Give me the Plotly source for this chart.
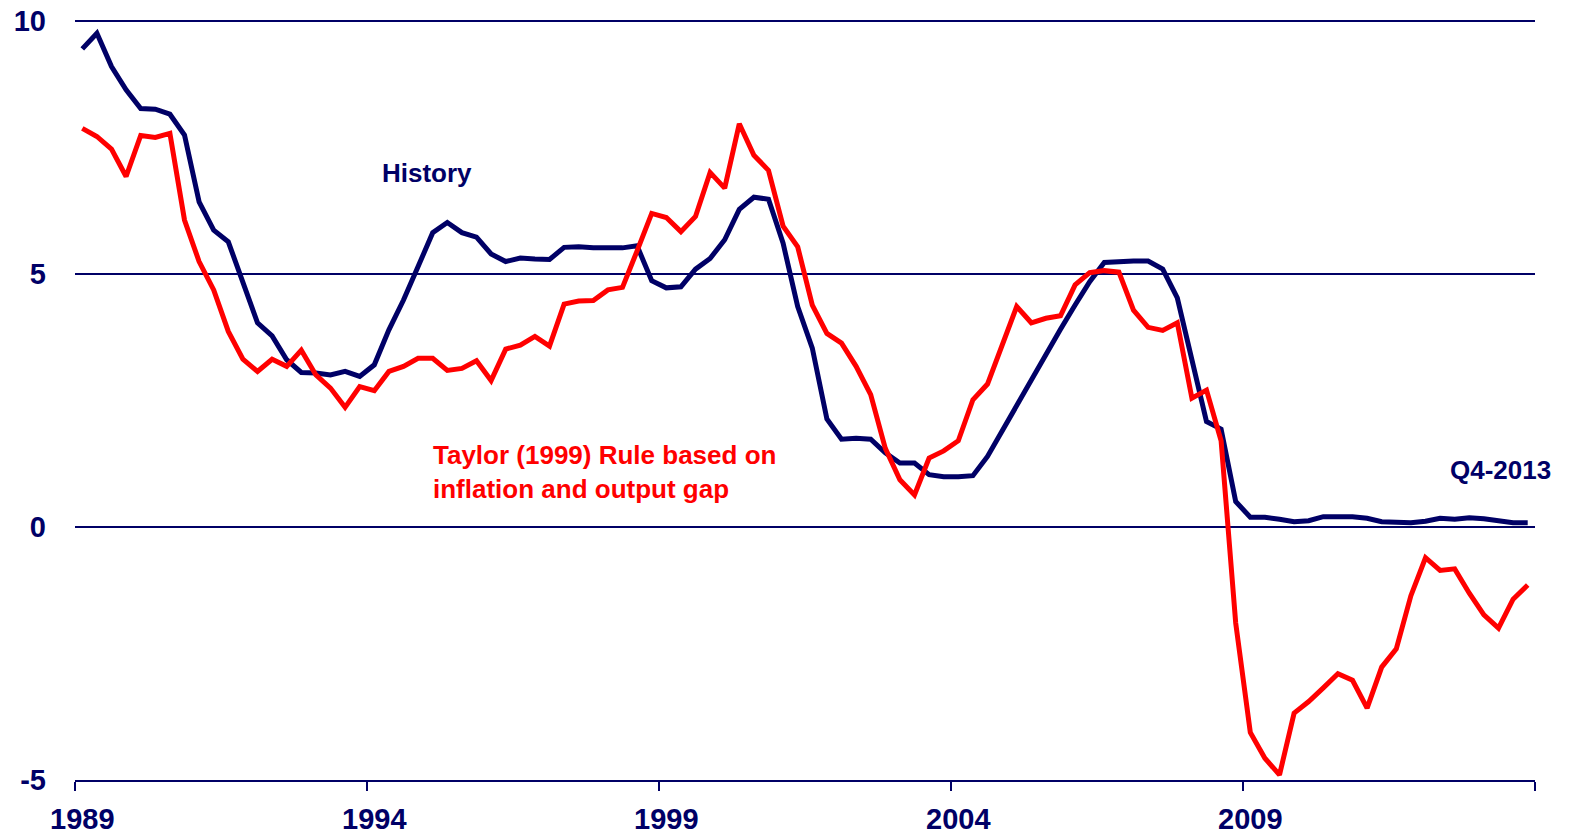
import plotly.graph_objects as go

NAVY = "#000066"
RED = "#FF0000"
FONT = "Liberation Sans, Arial, sans-serif"

# quarterly observations, 1989Q1 .. 2013Q4
quarters = [f"{y}Q{q}" for y in range(1989, 2014) for q in range(1, 5)]

history = [
    9.44, 9.75, 9.09, 8.63, 8.26, 8.25, 8.15, 7.74, 6.42, 5.86,
    5.63, 4.82, 4.03, 3.77, 3.30, 3.05, 3.04, 3.00, 3.07, 2.97,
    3.20, 3.89, 4.48, 5.14, 5.81, 6.01, 5.81, 5.72, 5.39, 5.24,
    5.31, 5.29, 5.28, 5.52, 5.53, 5.51, 5.52, 5.51, 5.55, 4.86,
    4.72, 4.74, 5.09, 5.30, 5.67, 6.27, 6.51, 6.47, 5.60, 4.35,
    3.53, 2.13, 1.73, 1.75, 1.73, 1.46, 1.26, 1.26, 1.03, 0.99,
    0.99, 1.01, 1.39, 1.90, 2.41, 2.89, 3.40, 3.90, 4.38, 4.84,
    5.22, 5.24, 5.25, 5.25, 5.09, 4.52, 3.33, 2.08, 1.93, 0.50,
    0.19, 0.19, 0.15, 0.10, 0.12, 0.20, 0.20, 0.20, 0.17, 0.10,
    0.09, 0.08, 0.11, 0.17, 0.15, 0.18, 0.16, 0.12, 0.08, 0.08,
]

taylor = [
    7.87, 7.71, 7.46, 6.92, 7.73, 7.69, 7.77, 6.06, 5.24, 4.68,
    3.86, 3.31, 3.07, 3.31, 3.17, 3.49, 3.00, 2.74, 2.36, 2.77,
    2.69, 3.07, 3.17, 3.33, 3.33, 3.09, 3.13, 3.28, 2.89, 3.51,
    3.59, 3.76, 3.57, 4.40, 4.46, 4.47, 4.68, 4.73, 5.45, 6.19,
    6.11, 5.83, 6.13, 7.00, 6.69, 7.96, 7.34, 7.04, 5.94, 5.53,
    4.38, 3.82, 3.63, 3.17, 2.61, 1.55, 0.93, 0.63, 1.36, 1.50,
    1.70, 2.51, 2.82, 3.57, 4.35, 4.03, 4.12, 4.17, 4.78, 5.02,
    5.06, 5.03, 4.28, 3.94, 3.88, 4.03, 2.54, 2.70, 1.70, -1.90,
    -4.06, -4.57, -4.90, -3.68, -3.45, -3.18, -2.90, -3.03, -3.58, -2.77,
    -2.41, -1.36, -0.61, -0.86, -0.83, -1.31, -1.74, -2.00, -1.43, -1.15,
]

year_labels = [1989, 1994, 1999, 2004, 2009]
y_ticks = [-5, 0, 5, 10]


def quarter_pos(label):
    yr, q = label.split("Q")
    return int(yr) + (int(q) - 0.5) / 4


x = [quarter_pos(q) for q in quarters]

fig = go.Figure()
fig.add_trace(go.Scatter(
    x=x, y=history, mode="lines", name="History",
    line=dict(color=NAVY, width=5),
))
fig.add_trace(go.Scatter(
    x=x, y=taylor, mode="lines", name="Taylor (1999) Rule",
    line=dict(color=RED, width=5),
))

ann_font = dict(family=FONT, size=26)
fig.add_annotation(
    x=1994.23, y=6.99, xref="x", yref="y", text="<b>History</b>",
    showarrow=False, xanchor="left", yanchor="middle",
    font=dict(color=NAVY, **ann_font),
)
fig.add_annotation(
    x=1995.09, y=1.09, xref="x", yref="y",
    text="<b>Taylor (1999) Rule based on<br>inflation and output gap</b>",
    showarrow=False, xanchor="left", yanchor="middle", align="left",
    font=dict(color=RED, **ann_font),
)
# sits past the right end of the axis, so it is placed in paper units
fig.add_annotation(
    x=1.0125, y=1.13, xref="paper", yref="y", text="<b>Q4-2013</b>",
    showarrow=False, xanchor="right", yanchor="middle",
    font=dict(color=NAVY, **ann_font),
)

tick_font = dict(family=FONT, size=29, color=NAVY, weight="bold")

# page body keeps its default 8px margin, so the figure is sized to fit inside it
fig.update_layout(
    width=1554, height=827,
    paper_bgcolor="white", plot_bgcolor="white",
    margin=dict(l=67, r=27, t=11, b=55),
    showlegend=False,
    xaxis=dict(
        range=[1989, 2014], automargin=False,
        showgrid=False, zeroline=False,
        showline=True, linecolor=NAVY, linewidth=2,
        tickmode="array",
        tickvals=[y + 0.125 for y in year_labels],
        ticktext=[str(y) for y in year_labels],
        ticks="", tickfont=tick_font, ticklabelstandoff=12,
        ticklabeloverflow="allow",
        minor=dict(
            tickmode="array",
            tickvals=list(range(1989, 2015, 5)),
            ticks="outside", ticklen=9, tickwidth=2, tickcolor=NAVY,
            showgrid=False,
        ),
    ),
    yaxis=dict(
        range=[-5, 10.03], automargin=False,
        tickmode="array", tickvals=y_ticks,
        ticktext=[str(v) for v in y_ticks],
        showgrid=True, gridcolor=NAVY, gridwidth=1.5,
        zeroline=False, showline=False,
        ticks="", tickfont=tick_font, ticklabelstandoff=28,
        ticklabeloverflow="allow",
    ),
)

fig.write_html("out.html")
